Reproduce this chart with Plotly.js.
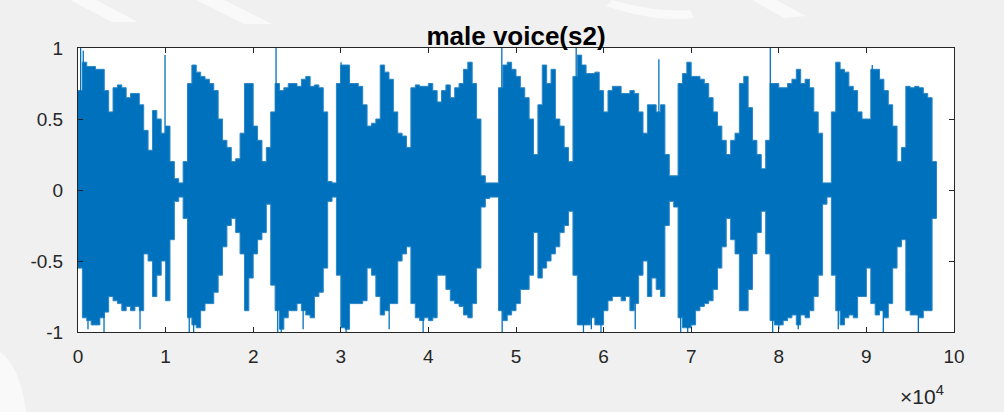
<!DOCTYPE html>
<html>
<head>
<meta charset="utf-8">
<script src="https://cdn.plot.ly/plotly-3.0.1.min.js"></script>
<style>
  html, body { margin: 0; padding: 0; background: #f0f0f0; }
  #wrap { position: relative; width: 1004px; height: 412px; }
  #mark { position: absolute; left: 0; top: 0; }
  #chart { position: absolute; left: 0; top: 0; width: 1004px; height: 412px; }
</style>
</head>
<body>
<div id="wrap">
  <!-- faint background emblem behind the figure -->
  <svg id="mark" width="1004" height="412" viewBox="0 0 1004 412">
    <g fill="#ffffff" opacity="0.6">
      <path d="M70,0 L96,0 L138,22 L112,22 Z"/>
      <path d="M196,0 L224,0 L272,24 L244,24 Z"/>
      <path d="M612,0 C640,8 668,12 690,10 L694,18 C668,22 636,16 606,6 Z"/>
      <path d="M752,0 L776,0 L806,16 L784,18 Z"/>
      <path d="M0,352 C12,360 22,380 26,412 L0,412 Z"/>
    </g>
  </svg>
  <div id="chart"></div>
</div>
<script>
// Amplitude envelope of the recording, one block per 500 samples
const blockSize = 500;
const upperEnv = [
  0.70, 0.90, 0.87, 0.87, 0.85, 0.85, 0.70, 0.55, 0.72, 0.74,
  0.72, 0.65, 0.68, 0.68, 0.60, 0.42, 0.28, 0.56, 0.50, 0.40,
  0.45, 0.20, 0.08, 0.05, 0.20, 0.75, 0.88, 0.83, 0.80, 0.78,
  0.75, 0.70, 0.50, 0.35, 0.30, 0.20, 0.22, 0.40, 0.75, 0.75,
  0.45, 0.35, 0.20, 0.30, 0.55, 0.75, 0.70, 0.72, 0.75, 0.75,
  0.73, 0.78, 0.80, 0.73, 0.74, 0.72, 0.55, 0.06, 0.05, 0.75,
  0.88, 0.88, 0.75, 0.75, 0.73, 0.60, 0.45, 0.47, 0.50, 0.88,
  0.83, 0.78, 0.55, 0.40, 0.38, 0.30, 0.72, 0.74, 0.73, 0.73,
  0.75, 0.70, 0.62, 0.70, 0.74, 0.65, 0.72, 0.75, 0.85, 0.90,
  0.75, 0.50, 0.10, 0.05, 0.05, 0.05, 0.72, 0.88, 0.90, 0.85,
  0.80, 0.72, 0.65, 0.50, 0.25, 0.60, 0.88, 0.75, 0.85, 0.50,
  0.45, 0.30, 0.20, 0.80, 0.95, 0.88, 0.82, 0.82, 0.83, 0.70,
  0.55, 0.70, 0.73, 0.73, 0.68, 0.68, 0.70, 0.68, 0.55, 0.40,
  0.60, 0.60, 0.55, 0.60, 0.25, 0.10, 0.10, 0.75, 0.82, 0.90,
  0.80, 0.80, 0.78, 0.75, 0.65, 0.55, 0.45, 0.35, 0.25, 0.35,
  0.40, 0.75, 0.80, 0.58, 0.35, 0.25, 0.15, 0.35, 0.75, 0.75,
  0.72, 0.72, 0.75, 0.78, 0.85, 0.75, 0.78, 0.72, 0.55, 0.40,
  0.05, 0.05, 0.55, 0.90, 0.85, 0.83, 0.73, 0.70, 0.55, 0.50,
  0.50, 0.85, 0.85, 0.78, 0.70, 0.60, 0.45, 0.20, 0.30, 0.73,
  0.72, 0.73, 0.72, 0.68, 0.65, 0.20
];
const lowerEnv = [
  -0.55, -0.90, -0.92, -0.95, -0.95, -0.90, -0.86, -0.75, -0.78, -0.80,
  -0.85, -0.82, -0.85, -0.82, -0.85, -0.45, -0.50, -0.75, -0.60, -0.50,
  -0.78, -0.35, -0.08, -0.05, -0.20, -0.90, -0.95, -0.97, -0.85, -0.80,
  -0.80, -0.72, -0.60, -0.40, -0.25, -0.20, -0.30, -0.45, -0.85, -0.62,
  -0.45, -0.35, -0.30, -0.10, -0.67, -0.85, -0.98, -0.90, -0.85, -0.85,
  -0.80, -0.85, -0.88, -0.90, -0.75, -0.72, -0.55, -0.08, -0.05, -0.60,
  -0.97, -0.98, -0.80, -0.80, -0.80, -0.78, -0.55, -0.60, -0.75, -0.88,
  -0.85, -0.80, -0.80, -0.50, -0.45, -0.40, -0.80, -0.90, -0.92, -0.90,
  -0.92, -0.90, -0.60, -0.60, -0.70, -0.78, -0.80, -0.82, -0.88, -0.90,
  -0.80, -0.55, -0.12, -0.06, -0.05, -0.05, -0.85, -0.92, -0.88, -0.85,
  -0.80, -0.70, -0.70, -0.60, -0.30, -0.62, -0.55, -0.50, -0.45, -0.40,
  -0.30, -0.25, -0.15, -0.60, -0.95, -0.95, -0.95, -0.90, -0.95, -0.95,
  -0.85, -0.78, -0.75, -0.75, -0.78, -0.75, -0.85, -0.80, -0.60, -0.50,
  -0.75, -0.62, -0.70, -0.75, -0.25, -0.08, -0.12, -0.90, -0.97, -0.97,
  -0.95, -0.85, -0.82, -0.80, -0.78, -0.70, -0.55, -0.40, -0.20, -0.35,
  -0.45, -0.85, -0.85, -0.70, -0.45, -0.30, -0.15, -0.45, -0.92, -0.95,
  -0.95, -0.92, -0.90, -0.88, -0.95, -0.88, -0.90, -0.85, -0.75, -0.60,
  -0.10, -0.05, -0.60, -0.85, -0.95, -0.90, -0.88, -0.90, -0.75, -0.75,
  -0.55, -0.80, -0.88, -0.85, -0.90, -0.80, -0.55, -0.40, -0.35, -0.85,
  -0.88, -0.88, -0.90, -0.85, -0.85, -0.20
];

// Isolated peaks that stand out from the envelope
const peakSamples = [
  300, 600, 9935, 22610, 30030, 48380, 56870, 66310, 79030, 90670,
  1140, 2970, 7080, 12700, 13200, 22800, 23200, 25700, 30600, 35520,
  39400, 48420, 57700, 58600, 59700, 63610, 68800, 69600, 79300, 80000,
  82220, 86790, 91930, 95930
];
const peakValues = [
  1.00, 0.98, 0.95, 1.00, 0.90, 1.00, 1.00, 0.92, 1.00, 0.88,
  -0.98, -1.00, -0.98, -1.00, -1.00, -1.00, -1.00, -0.98, -1.00, -0.98,
  -1.00, -1.00, -1.00, -0.98, -1.00, -0.98, -1.00, -1.00, -1.00, -0.98,
  -0.98, -0.98, -1.00, -1.00
];

// Axis ticks
const xTickVals = [0, 10000, 20000, 30000, 40000, 50000, 60000, 70000, 80000, 90000, 100000];
const xTickText = ['0', '1', '2', '3', '4', '5', '6', '7', '8', '9', '10'];
const yTickVals = [-1, -0.5, 0, 0.5, 1];
const yTickText = ['-1', '-0.5', '0', '0.5', '1'];

const lineBlue = '#0072bd';
const edgeBlue = '#2a86c6';
const fontFamily = 'Liberation Sans, Arial, sans-serif';

// Outline of the envelope: stepped along the top, then back along the bottom
const polyX = [], polyY = [];
upperEnv.forEach((v, i) => {
  polyX.push(i * blockSize, (i + 1) * blockSize);
  polyY.push(v, v);
});
for (let i = lowerEnv.length - 1; i >= 0; i--) {
  polyX.push((i + 1) * blockSize, i * blockSize);
  polyY.push(lowerEnv[i], lowerEnv[i]);
}

// Peaks drawn as single vertical strokes from zero
const peakX = [], peakY = [];
peakSamples.forEach((s, i) => {
  peakX.push(s, s, null);
  peakY.push(0, peakValues[i], null);
});

const traces = [
  {
    x: polyX, y: polyY, type: 'scatter', mode: 'lines',
    fill: 'toself', fillcolor: lineBlue,
    line: { color: edgeBlue, width: 1 },
    hoverinfo: 'skip', showlegend: false
  },
  {
    x: peakX, y: peakY, type: 'scatter', mode: 'lines',
    line: { color: lineBlue, width: 1.3 },
    hoverinfo: 'skip', showlegend: false
  }
];

const axisCommon = {
  showgrid: false, zeroline: false,
  showline: true, linecolor: '#262626', linewidth: 1,
  mirror: 'allticks', ticks: 'inside', ticklen: 5, tickwidth: 1, tickcolor: '#262626',
  tickfont: { family: fontFamily, size: 19, color: '#262626' },
  fixedrange: true
};

const layout = {
  width: 1004, height: 412,
  paper_bgcolor: 'rgba(0,0,0,0)', plot_bgcolor: '#ffffff',
  margin: { l: 78, r: 50, t: 48, b: 80 },
  title: {
    text: 'male voice(s2)',
    font: { family: fontFamily, size: 26, color: '#000000', weight: 'bold' },
    xref: 'paper', x: 0.5, xanchor: 'center',
    yref: 'paper', y: 1, yanchor: 'bottom', pad: { b: 3 }
  },
  xaxis: Object.assign({}, axisCommon, {
    range: [0, 100000], tickmode: 'array', tickvals: xTickVals, ticktext: xTickText,
    ticklabelstandoff: 7
  }),
  yaxis: Object.assign({}, axisCommon, {
    range: [-1, 1], tickmode: 'array', tickvals: yTickVals, ticktext: yTickText,
    ticklabelstandoff: 10
  }),
  annotations: [{
    xref: 'paper', yref: 'paper', x: 1, y: 0, xanchor: 'right', yanchor: 'top',
    xshift: -8, yshift: -48,
    text: '×10<sup>4</sup>', showarrow: false,
    font: { family: fontFamily, size: 21, color: '#262626' }
  }]
};

Plotly.newPlot('chart', traces, layout, { displayModeBar: false, staticPlot: true });
</script>
</body>
</html>
